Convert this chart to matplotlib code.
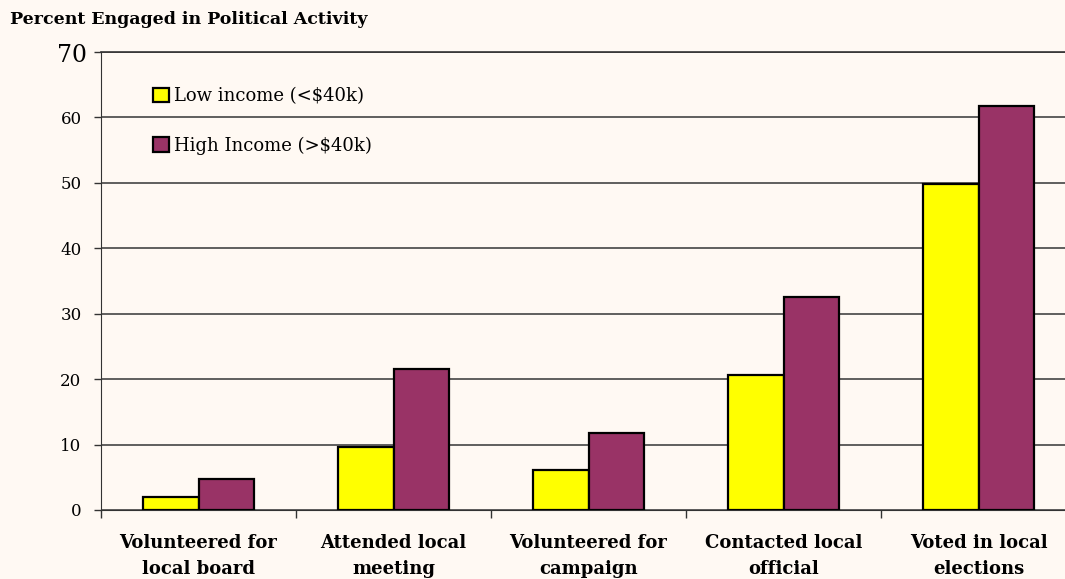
import matplotlib.pyplot as plt
import numpy as np

categories = ["Volunteered for\nlocal board", "Attended local\nmeeting",
              "Volunteered for\ncampaign", "Contacted local\nofficial",
              "Voted in local\nelections"]
low_income = [2.0, 9.7, 6.1, 20.6, 49.8]
high_income = [4.7, 21.6, 11.8, 32.5, 61.7]
series_names = ["Low income (<$40k)", "High Income (>$40k)"]
yticks = [0, 10, 20, 30, 40, 50, 60, 70]

plt.rcParams['font.family'] = ['DejaVu Serif']
bg = '#fff9f3'

fig = plt.figure(figsize=(10.65, 5.79), dpi=100, facecolor=bg)
ax = fig.add_axes([101 / 1065, 69 / 579, 975 / 1065, 458 / 579], facecolor=bg)

x = np.arange(len(categories))
w = 0.287
ax.bar(x - w / 2, low_income, w, color='#ffff00', edgecolor='black', linewidth=1.6,
       label=series_names[0], zorder=3)
ax.bar(x + w / 2, high_income, w, color='#993366', edgecolor='black', linewidth=1.6,
       label=series_names[1], zorder=3)

ax.set_xlim(-0.5, 4.5)
ax.set_ylim(0, 70)
ax.set_yticks(yticks)
# top label is drawn larger and closer to the axis, as in the original
ax.set_yticklabels([str(v) for v in yticks[:-1]] + [''], fontsize=12)
ax.annotate(str(yticks[-1]), xy=(0, yticks[-1]), xycoords=('axes fraction', 'data'),
            xytext=(-14, -4), textcoords='offset pixels', ha='right', va='center',
            fontsize=17)
ax.yaxis.grid(True, color='#444444', linewidth=1.2, zorder=0)

ax.set_xticks(np.arange(-0.5, 5, 1))
ax.set_xticklabels([])
ax.tick_params(axis='x', length=6, width=1, color='#333333')
ax.tick_params(axis='y', length=5, width=1, color='#333333', pad=9)
for i, c in enumerate(categories):
    ax.text(i, -3.6, c, ha='center', va='top', fontsize=13, fontweight='bold',
            linespacing=1.6)

ax.spines['right'].set_visible(False)
ax.spines['top'].set_color('#333333')
ax.spines['top'].set_linewidth(1.2)
ax.spines['left'].set_color('#333333')
ax.spines['bottom'].set_color('#333333')

leg = ax.legend(loc='upper left', bbox_to_anchor=(0.037, 0.959), frameon=False,
                fontsize=13, handlelength=0.85, handleheight=0.85, handletextpad=0.3,
                labelspacing=1.75)

fig.text(10 / 1065, 1 - 20 / 579, "Percent Engaged in Political Activity",
         fontsize=12.5, fontweight='bold', va='center', ha='left')

plt.savefig("out.png", dpi=100, facecolor=bg)
